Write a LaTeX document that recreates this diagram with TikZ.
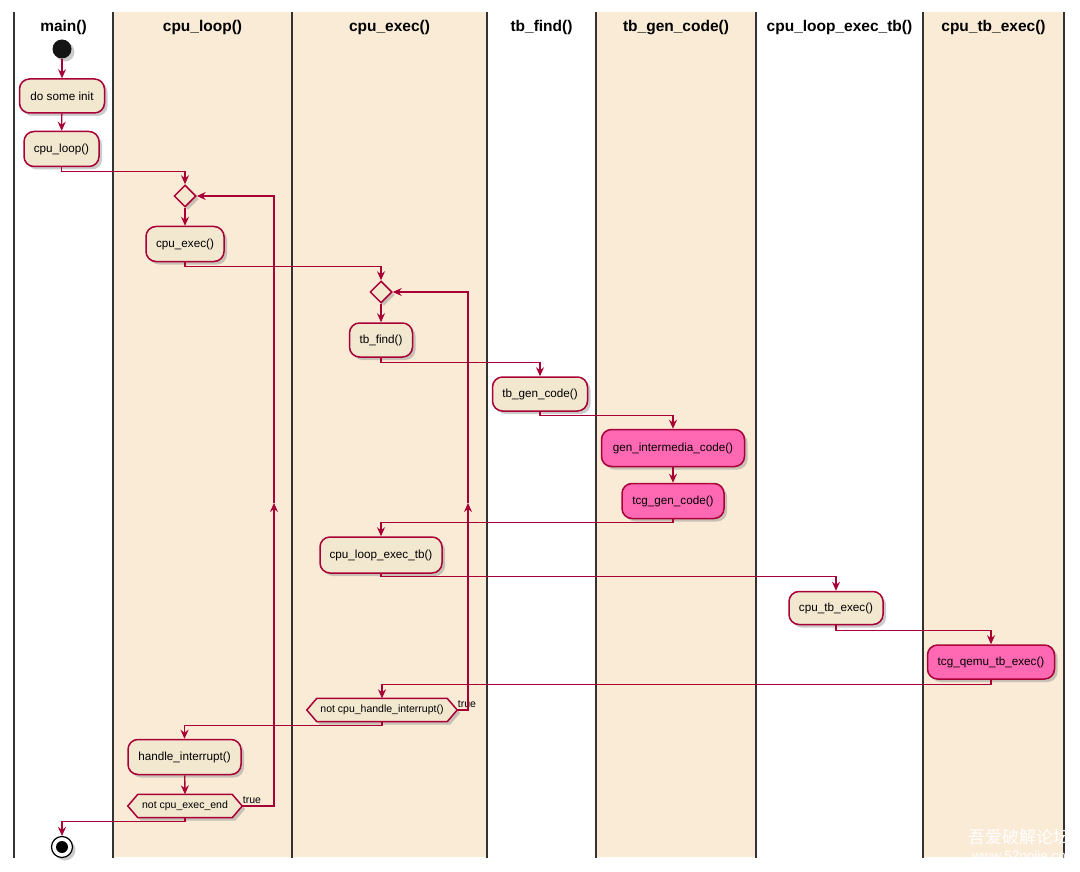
\documentclass[tikz,border=0pt]{standalone}
\usepackage{fontspec}
\setmainfont{Liberation Sans}
\newfontfamily\cjkfont{Noto Sans CJK SC}
\usetikzlibrary{arrows.meta,shadows,calc,shapes.geometric}
\pgfdeclarelayer{lanes}
\pgfdeclarelayer{shapes}
\pgfsetlayers{lanes,shapes,main}

\definecolor{edgecol}{HTML}{A80036}
\definecolor{lanefill}{HTML}{FAEBD7}
\definecolor{boxfill}{HTML}{F2E7CF}
\definecolor{hotfill}{HTML}{FF69B4}

\tikzset{
  shade3/.style={drop shadow={shadow xshift=3pt, shadow yshift=-3pt, fill=black!45, opacity=.45}},
  act/.style={draw=edgecol, line width=1.5pt, fill=boxfill, rounded corners=10pt,
    font=\fontsize{11.7}{13}\selectfont, inner sep=0pt, shade3},
  hot/.style={act, fill=hotfill},
  merge/.style={diamond, aspect=1, draw=edgecol, line width=1.5pt, fill=boxfill,
    inner sep=0pt, minimum width=22pt, minimum height=22pt, shade3},
  cond/.style={font=\fontsize{10.5}{12}\selectfont, inner sep=0pt, minimum height=23pt},
  hexline/.style={draw=edgecol, line width=1.5pt, fill=boxfill, shade3},
  flow/.style={draw=edgecol, line width=1.35pt, -{Stealth[length=9pt,width=8pt,inset=3pt]}},
  lanehead/.style={font=\bfseries\fontsize{15.5}{18}\selectfont, anchor=base},
  lbl/.style={font=\fontsize{10.5}{12}\selectfont, inner sep=0pt, anchor=west},
  laneline/.style={draw=black!80, line width=1.6pt},
}

\begin{document}
\begin{tikzpicture}[x=1pt, y=-1pt]
\useasboundingbox (0,0) rectangle (1080,872);

% swimlanes
\begin{pgfonlayer}{lanes}
  \fill[white] (0,0) rectangle (1080,872);
  \fill[lanefill] (113,12) rectangle (487,857);
  \fill[lanefill] (596,12) rectangle (756,857);
  \fill[lanefill] (923,12) rectangle (1064,857);
  \foreach \lx in {14,113,292,487,596,756,923,1064}
    \draw[laneline] (\lx,12) -- (\lx,858);
\end{pgfonlayer}

\node[lanehead] (h1) at (63.5,31.5) {main()};
\node[lanehead] (h2) at (202.5,31.5) {cpu\_loop()};
\node[lanehead] (h3) at (389.5,31.5) {cpu\_exec()};
\node[lanehead] (h4) at (541.5,31.5) {tb\_find()};
\node[lanehead] (h5) at (676,31.5) {tb\_gen\_code()};
\node[lanehead] (h6) at (839.5,31.5) {cpu\_loop\_exec\_tb()};
\node[lanehead] (h7) at (993.5,31.5) {cpu\_tb\_exec()};

% activities
\node[circle, fill=black!92, minimum size=19pt, inner sep=0pt, shade3] (start) at (62,49) {};
\node[act, minimum width=85pt, minimum height=34pt] (init) at (62,96) {do some init};
\node[act, minimum width=75pt, minimum height=35pt] (loopcall) at (61.5,149) {cpu\_loop()};
\node[merge] (d1) at (185,196) {};
\node[act, minimum width=78pt, minimum height=35pt] (cpuexec) at (185,244) {cpu\_exec()};
\node[merge] (d2) at (381,292) {};
\node[act, minimum width=63pt, minimum height=34pt] (tbfind) at (381,340) {tb\_find()};
\node[act, minimum width=95pt, minimum height=34pt] (tbgen) at (540,394) {tb\_gen\_code()};
\node[hot, minimum width=143pt, minimum height=37pt] (genim) at (673,448) {gen\_intermedia\_code()};
\node[hot, minimum width=102pt, minimum height=35pt] (tcggen) at (673,501) {tcg\_gen\_code()};
\node[act, minimum width=122pt, minimum height=36pt] (loopexec) at (381,555) {cpu\_loop\_exec\_tb()};
\node[act, minimum width=94pt, minimum height=33pt] (tbexec) at (836,608) {cpu\_tb\_exec()};
\node[hot, minimum width=127pt, minimum height=34pt] (qemu) at (991,662) {tcg\_qemu\_tb\_exec()};
\node[cond, minimum width=130pt] (ex1) at (382,710) {not cpu\_handle\_interrupt()};
\node[act, minimum width=113pt, minimum height=35pt] (hint) at (184.5,757) {handle\_interrupt()};
\node[cond, minimum width=94pt] (ex2) at (185,806) {not cpu\_exec\_end};
\node[circle, draw=black, line width=1.2pt, fill=white, minimum size=21pt, inner sep=0pt, shade3,
  path picture={\fill[black] (path picture bounding box.center) circle (6pt);}] (stop) at (62,847) {};

% hexagon outlines of the two loop conditions
\coordinate (ex1l) at ($(ex1.west)+(-10,0)$);
\coordinate (ex1r) at ($(ex1.east)+(10,0)$);
\coordinate (ex2l) at ($(ex2.west)+(-10,0)$);
\coordinate (ex2r) at ($(ex2.east)+(10,0)$);
\begin{pgfonlayer}{shapes}
  \draw[hexline] (ex1.north west) -- (ex1.north east) -- (ex1r) -- (ex1.south east)
    -- (ex1.south west) -- (ex1l) -- cycle;
  \draw[hexline] (ex2.north west) -- (ex2.north east) -- (ex2r) -- (ex2.south east)
    -- (ex2.south west) -- (ex2l) -- cycle;
\end{pgfonlayer}
\node[lbl] (t1) at ($(ex1r)+(0.5,-6)$) {true};
\node[lbl] (t2) at ($(ex2r)+(0.5,-6)$) {true};

% loop-back rails
\coordinate (up1) at (274,503);
\coordinate (up2) at (468,503);

% control flow
\draw[flow] (start) -- (init);
\draw[flow] (init) -- (loopcall);
\draw[flow] (loopcall.south) -- ++(0,4) -| (d1.north);
\draw[flow] (d1) -- (cpuexec);
\draw[flow] (cpuexec.south) -- ++(0,4) -| (d2.north);
\draw[flow] (d2) -- (tbfind);
\draw[flow] (tbfind.south) -- ++(0,5) -| (tbgen.north);
\draw[flow] (tbgen.south) -- ++(0,4) -| (genim.north);
\draw[flow] (genim) -- (tcggen);
\draw[flow] (tcggen.south) -- ++(0,3) -| (loopexec.north);
\draw[flow] (loopexec.south) -- ++(0,3) -| (tbexec.north);
\draw[flow] (tbexec.south) -- ++(0,5) -| (qemu.north);
\draw[flow] (qemu.south) -- ++(0,5) -| (ex1.north);
\draw[flow] (ex1.south) -- ++(0,4) -| (hint.north);
\draw[flow] (hint) -- (ex2.north);
\draw[flow] (ex2.south) -- ++(0,4) -| (stop.north);

% "true" branches back to the merge points
\draw[flow] (ex1r) -| (up2);
\draw[flow] (up2) |- (d2.east);
\draw[flow] (ex2r) -| (up1);
\draw[flow] (up1) |- (d1.east);

% watermark
\node[font=\cjkfont\fontsize{17}{19}\selectfont, text=white, inner sep=0pt] (wm1) at (1019,837) {吾爱破解论坛};
\node[font=\fontsize{13.5}{15}\selectfont, text=white, inner sep=0pt] (wm2) at (1019,857) {www.52pojie.cn};
\end{tikzpicture}
\end{document}
